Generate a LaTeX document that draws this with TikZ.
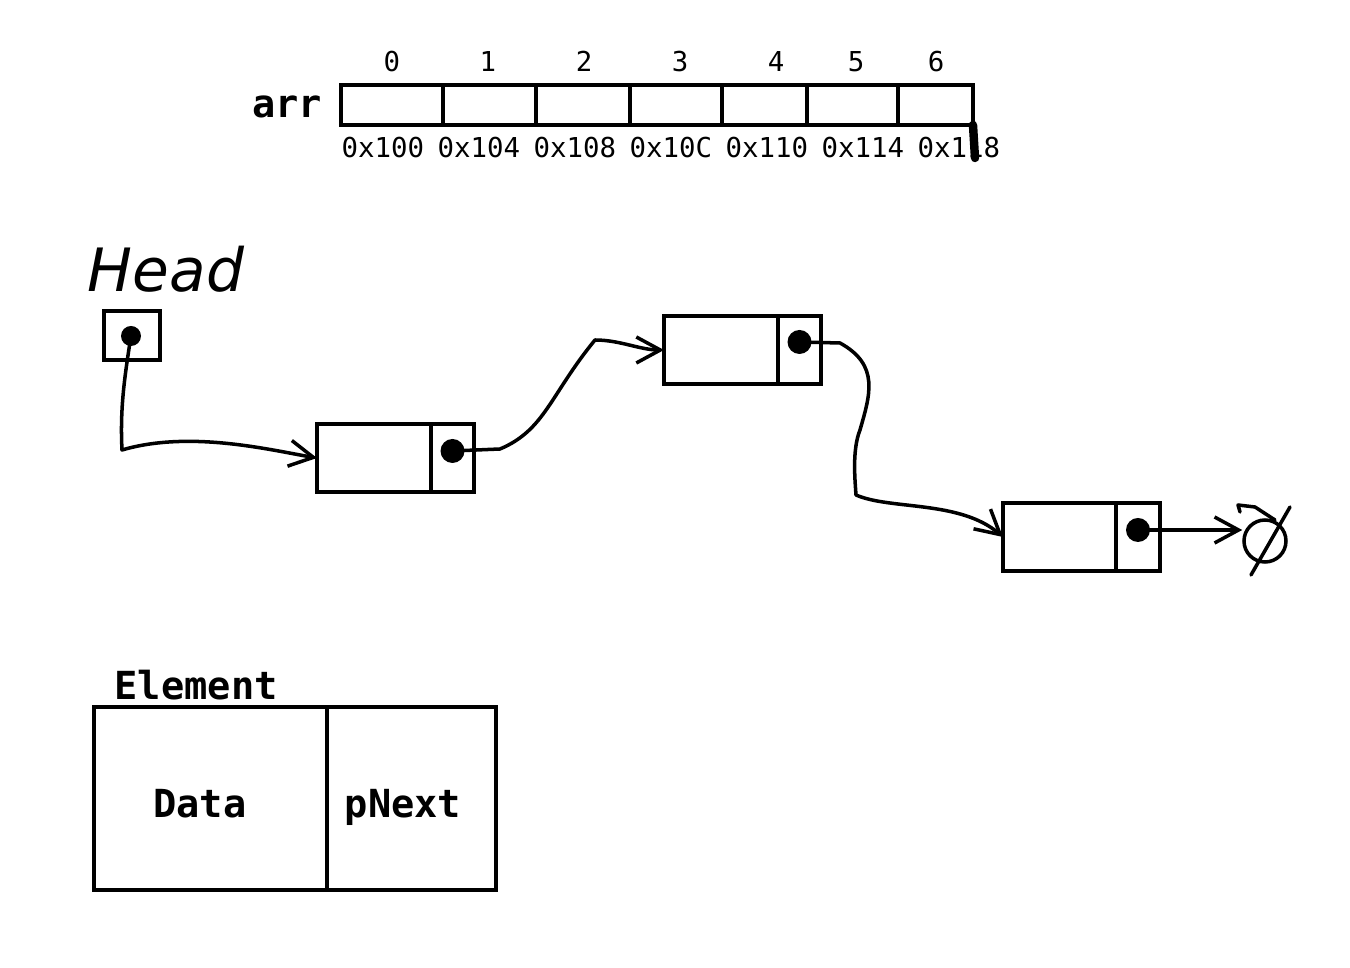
\documentclass[tikz,border=0pt]{standalone}
\usepackage{fontspec}
\setmonofont{DejaVu Sans Mono}
\newfontfamily\handfont{DejaVu Sans}
\usetikzlibrary{arrows.meta,positioning,calc}

\begin{document}
\begin{tikzpicture}[
  cell/.style={draw, very thick, outer sep=0pt, inner sep=0pt, minimum height=0.68cm},
  ptrdot/.style={circle, fill=black, inner sep=0pt, minimum size=0.24cm},
  link/.style={line width=1pt, line cap=round, line join=round, -{Straight Barb[length=2.4mm,width=2.6mm]}},
  smallmono/.style={font=\ttfamily\fontsize{7.8}{9}\selectfont, inner sep=0pt},
  bigmono/.style={font=\ttfamily\bfseries\fontsize{11}{13}\selectfont, inner sep=0pt}
]
\useasboundingbox (0,0) rectangle (13.5,-9.68);

% Array with indices and addresses
\node[bigmono, anchor=base] (arrlbl) at (2.87,-1.18) {arr};
\foreach \a/\b/\i/\ix/\addr in {3.41/4.43/0/3.92/0x100, 4.43/5.36/1/4.88/0x104,
    5.36/6.30/2/5.84/0x108, 6.30/7.22/3/6.80/0x10C, 7.22/8.07/4/7.76/0x110,
    8.07/8.98/5/8.56/0x114, 8.98/9.73/6/9.36/0x118} {
  \draw[very thick] (\a,-0.85) rectangle (\b,-1.25);
  \node[smallmono, anchor=base] (idx\i) at (\ix,-0.72) {\i};
  \node[smallmono, anchor=base west] (addr\i) at (3.41+0.96*\i,-1.58) {\addr};
}
% pen mark on the last address
\draw[line width=2.4pt, line cap=round] (9.73,-1.25) -- (9.75,-1.58);

% Head pointer
\node[font=\handfont\itshape\fontsize{17}{19}\selectfont, anchor=base, inner sep=0pt] (headlbl) at (1.66,-2.92) {Head};
\node[cell, minimum width=0.56cm, minimum height=0.49cm] (head) at (1.32,-3.355) {};
\node[ptrdot, minimum size=0.2cm] (hdot) at (1.31,-3.36) {};

% List elements
\node[cell, minimum width=1.14cm] (n1d) at (3.74,-4.58) {};
\node[cell, minimum width=0.43cm, right=0pt of n1d] (n1p) {};
\node[ptrdot] (n1dot) at ($(n1p.center)+(0,0.07)$) {};

\node[cell, minimum width=1.14cm] (n2d) at (7.21,-3.50) {};
\node[cell, minimum width=0.43cm, right=0pt of n2d] (n2p) {};
\node[ptrdot] (n2dot) at ($(n2p.center)+(0,0.08)$) {};

\node[cell, minimum width=1.13cm] (n3d) at (10.595,-5.37) {};
\node[cell, minimum width=0.44cm, right=0pt of n3d] (n3p) {};
\node[ptrdot] (n3dot) at ($(n3p.center)+(0,0.07)$) {};

% Null
\node[circle, draw, line width=1pt, minimum size=0.42cm, inner sep=0pt] (null) at (12.65,-5.41) {};
\draw[line width=1pt, line cap=round] (12.90,-5.07) -- (12.51,-5.75);
\draw[line width=1pt, line cap=round, line join=round] (12.40,-5.12) -- (12.38,-5.05) -- (12.55,-5.07) -- (12.75,-5.20);

% Links
\draw[link] (hdot.center) .. controls (1.24,-3.8) and (1.20,-4.1) .. (1.22,-4.5)
  .. controls (1.9,-4.30) and (2.7,-4.50) .. (n1d.west);
\draw[link] (n1dot.center) -- (5.0,-4.49) .. controls (5.45,-4.3) and (5.5,-3.95) .. (5.95,-3.40)
  .. controls (6.2,-3.40) and (6.4,-3.50) .. (n2d.west);
\draw[link] (n2dot.center) -- (8.40,-3.43) .. controls (8.80,-3.65) and (8.70,-3.95) .. (8.60,-4.30)
  .. controls (8.52,-4.50) and (8.55,-4.80) .. (8.56,-4.95)
  .. controls (8.90,-5.10) and (9.60,-5.00) .. (n3d.west);
\draw[link] (n3dot.center) -- (n3dot.center -| null.west);

% Element legend
\node[bigmono, anchor=base west] (elemlbl) at (1.14,-7.00) {Element};
\node[cell, minimum width=2.33cm, minimum height=1.83cm] (edata) at (2.105,-7.985) {};
\node[cell, minimum width=1.69cm, minimum height=1.83cm, right=0pt of edata] (enext) {};
\node[bigmono, anchor=base] (datalbl) at (2.00,-8.18) {Data};
\node[bigmono, anchor=base] (nextlbl) at (4.03,-8.18) {pNext};

\end{tikzpicture}
\end{document}
